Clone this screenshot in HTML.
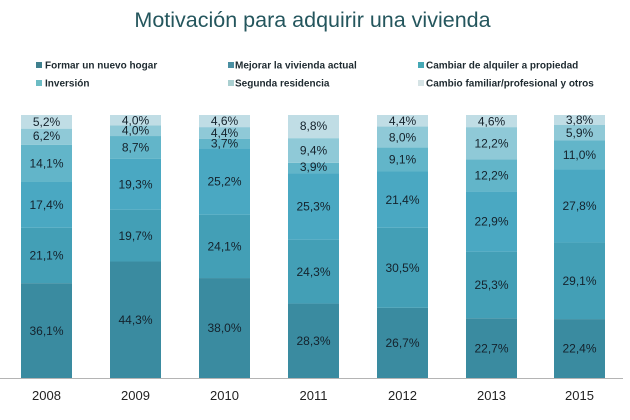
<!DOCTYPE html>
<html><head><meta charset="utf-8"><style>
html,body{margin:0;padding:0;background:#fff;}
svg{display:block;}
text{font-family:"Liberation Sans",sans-serif;}
.v{font-size:12px;fill:#14222c;text-anchor:middle;}
.y{font-size:13px;fill:#222;text-anchor:middle;}
.l{font-size:10px;font-weight:bold;fill:#1e2a30;}
</style></head><body>
<svg width="630" height="420" viewBox="0 0 630 420" xmlns="http://www.w3.org/2000/svg">
<rect width="630" height="420" fill="#fff"/>
<text x="312.5" y="27" text-anchor="middle" style="font-size:21.5px;fill:#24565d;">Motivación para adquirir una vivienda</text>

<!-- legend -->
<rect x="36" y="62" width="6" height="6" fill="#3f808e"/><text class="l" x="45" y="68.5">Formar un nuevo hogar</text>
<rect x="228" y="62" width="6" height="6" fill="#4a8fa2"/><text class="l" x="235" y="68.5">Mejorar la vivienda actual</text>
<rect x="418" y="62" width="6" height="6" fill="#45a8b5"/><text class="l" x="426" y="68.5">Cambiar de alquiler a propiedad</text>
<rect x="36" y="80" width="6" height="6" fill="#6cbcc4"/><text class="l" x="45" y="86.5">Inversión</text>
<rect x="228" y="80" width="6" height="6" fill="#a9cfd0"/><text class="l" x="235" y="86.5">Segunda residencia</text>
<rect x="418" y="80" width="6" height="6" fill="#d5e3e5"/><text class="l" x="426" y="86.5">Cambio familiar/profesional y otros</text>

<!-- 2008 -->
<g>
<rect x="21" y="283.15" width="51" height="94.85" fill="#3a8ba0"/>
<rect x="21" y="227.71" width="51" height="55.44" fill="#439fb6"/>
<rect x="21" y="181.99" width="51" height="45.72" fill="#4aa8c2"/>
<rect x="21" y="144.94" width="51" height="37.05" fill="#62b5c9"/>
<rect x="21" y="128.65" width="51" height="16.29" fill="#8fc9d7"/>
<rect x="21" y="115" width="51" height="13.65" fill="#c0dde5"/>
<text class="v" x="46.5" y="334.8">36,1%</text>
<text class="v" x="46.5" y="259.6">21,1%</text>
<text class="v" x="46.5" y="209.1">17,4%</text>
<text class="v" x="46.5" y="167.7">14,1%</text>
<text class="v" x="46.5" y="140.0">6,2%</text>
<text class="v" x="46.5" y="126.0">5,2%</text>
</g>
<!-- 2009 -->
<g>
<rect x="110" y="261.49" width="51" height="116.51" fill="#3a8ba0"/>
<rect x="110" y="209.68" width="51" height="51.81" fill="#439fb6"/>
<rect x="110" y="158.92" width="51" height="50.76" fill="#4aa8c2"/>
<rect x="110" y="136.04" width="51" height="22.88" fill="#62b5c9"/>
<rect x="110" y="125.52" width="51" height="10.52" fill="#8fc9d7"/>
<rect x="110" y="115" width="51" height="10.52" fill="#c0dde5"/>
<text class="v" x="135.5" y="323.9">44,3%</text>
<text class="v" x="135.5" y="239.8">19,7%</text>
<text class="v" x="135.5" y="188.5">19,3%</text>
<text class="v" x="135.5" y="151.7">8,7%</text>
<text class="v" x="135.5" y="134.5">4,0%</text>
<text class="v" x="135.5" y="124.5">4,0%</text>
</g>
<!-- 2010 -->
<g>
<rect x="199" y="278.06" width="51" height="99.94" fill="#3a8ba0"/>
<rect x="199" y="214.68" width="51" height="63.38" fill="#439fb6"/>
<rect x="199" y="148.40" width="51" height="66.28" fill="#4aa8c2"/>
<rect x="199" y="138.67" width="51" height="9.73" fill="#62b5c9"/>
<rect x="199" y="127.10" width="51" height="11.57" fill="#8fc9d7"/>
<rect x="199" y="115" width="51" height="12.10" fill="#c0dde5"/>
<text class="v" x="224.5" y="332.2">38,0%</text>
<text class="v" x="224.5" y="250.6">24,1%</text>
<text class="v" x="224.5" y="185.7">25,2%</text>
<text class="v" x="224.5" y="147.5">3,7%</text>
<text class="v" x="224.5" y="137.1">4,4%</text>
<text class="v" x="224.5" y="125.2">4,6%</text>
</g>
<!-- 2011 -->
<g>
<rect x="288" y="303.57" width="51" height="74.43" fill="#3a8ba0"/>
<rect x="288" y="239.66" width="51" height="63.91" fill="#439fb6"/>
<rect x="288" y="173.12" width="51" height="66.54" fill="#4aa8c2"/>
<rect x="288" y="162.86" width="51" height="10.26" fill="#62b5c9"/>
<rect x="288" y="138.14" width="51" height="24.72" fill="#8fc9d7"/>
<rect x="288" y="115" width="51" height="23.14" fill="#c0dde5"/>
<text class="v" x="313.5" y="345.0">28,3%</text>
<text class="v" x="313.5" y="275.8">24,3%</text>
<text class="v" x="313.5" y="210.6">25,3%</text>
<text class="v" x="313.5" y="171.2">3,9%</text>
<text class="v" x="313.5" y="154.7">9,4%</text>
<text class="v" x="313.5" y="129.8">8,8%</text>
</g>
<!-- 2012 -->
<g>
<rect x="377" y="307.85" width="51" height="70.15" fill="#3a8ba0"/>
<rect x="377" y="227.71" width="51" height="80.14" fill="#439fb6"/>
<rect x="377" y="171.48" width="51" height="56.23" fill="#4aa8c2"/>
<rect x="377" y="147.57" width="51" height="23.91" fill="#62b5c9"/>
<rect x="377" y="126.55" width="51" height="21.02" fill="#8fc9d7"/>
<rect x="377" y="115" width="51" height="11.55" fill="#c0dde5"/>
<text class="v" x="402.5" y="347.1">26,7%</text>
<text class="v" x="402.5" y="272.0">30,5%</text>
<text class="v" x="402.5" y="203.8">21,4%</text>
<text class="v" x="402.5" y="163.7">9,1%</text>
<text class="v" x="402.5" y="141.3">8,0%</text>
<text class="v" x="402.5" y="125.0">4,4%</text>
</g>
<!-- 2013 -->
<g>
<rect x="466" y="318.24" width="51" height="59.76" fill="#3a8ba0"/>
<rect x="466" y="251.64" width="51" height="66.60" fill="#439fb6"/>
<rect x="466" y="191.35" width="51" height="60.29" fill="#4aa8c2"/>
<rect x="466" y="159.23" width="51" height="32.12" fill="#62b5c9"/>
<rect x="466" y="127.11" width="51" height="32.12" fill="#8fc9d7"/>
<rect x="466" y="115" width="51" height="12.11" fill="#c0dde5"/>
<text class="v" x="491.5" y="352.3">22,7%</text>
<text class="v" x="491.5" y="289.1">25,3%</text>
<text class="v" x="491.5" y="225.7">22,9%</text>
<text class="v" x="491.5" y="179.5">12,2%</text>
<text class="v" x="491.5" y="147.4">12,2%</text>
<text class="v" x="491.5" y="125.3">4,6%</text>
</g>
<!-- 2015 -->
<g>
<rect x="554" y="319.09" width="51" height="58.91" fill="#3a8ba0"/>
<rect x="554" y="242.56" width="51" height="76.53" fill="#439fb6"/>
<rect x="554" y="169.45" width="51" height="73.11" fill="#4aa8c2"/>
<rect x="554" y="140.52" width="51" height="28.93" fill="#62b5c9"/>
<rect x="554" y="125.0" width="51" height="15.52" fill="#8fc9d7"/>
<rect x="554" y="115" width="51" height="10.0" fill="#c0dde5"/>
<text class="v" x="579.5" y="352.7">22,4%</text>
<text class="v" x="579.5" y="285.0">29,1%</text>
<text class="v" x="579.5" y="210.2">27,8%</text>
<text class="v" x="579.5" y="159.2">11,0%</text>
<text class="v" x="579.5" y="137.0">5,9%</text>
<text class="v" x="579.5" y="124.2">3,8%</text>
</g>

<line x1="0" y1="378.5" x2="623" y2="378.5" stroke="#b4b4b4" stroke-width="1"/>

<text class="y" x="46.5" y="400">2008</text>
<text class="y" x="135.5" y="400">2009</text>
<text class="y" x="224.5" y="400">2010</text>
<text class="y" x="313.5" y="400">2011</text>
<text class="y" x="402.5" y="400">2012</text>
<text class="y" x="491.5" y="400">2013</text>
<text class="y" x="579.5" y="400">2015</text>
</svg>
</body></html>
